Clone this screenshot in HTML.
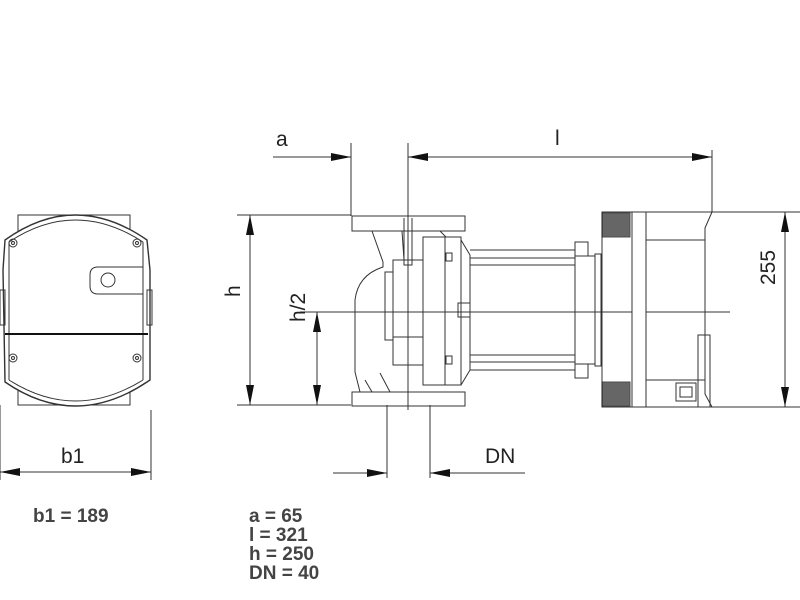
<!DOCTYPE html>
<html><head><style>
html,body{margin:0;padding:0;background:#fff;width:800px;height:600px;overflow:hidden}
.t{font-family:"Liberation Sans",Arial,sans-serif;font-weight:bold;fill:#444;font-size:19px}
.d{font-family:"Liberation Sans",Arial,sans-serif;fill:#222;font-size:21px}
</style></head><body>
<svg width="800" height="600" viewBox="0 0 800 600" xmlns="http://www.w3.org/2000/svg">
<defs>
<marker id="ar" viewBox="0 0 20 8" refX="20" refY="4" markerWidth="20" markerHeight="8" markerUnits="userSpaceOnUse" orient="auto-start-reverse"><path d="M0,0 L20,4 L0,8 Z" fill="#111"/></marker>
</defs>
<g stroke="#333" stroke-width="1" fill="none">
<rect x="18" y="215" width="112" height="190"/>
<path d="M5,240 Q75,190 147,240 L150,270 L150,380 L147,382 Q75,430 5,382 L3,270 Z" fill="#fff" stroke-width="1.4"/>
<path d="M9,242 Q75,198 143,242 M9,380 Q75,422 143,380" />
<line x1="9" y1="242" x2="9" y2="380"/><line x1="143" y1="242" x2="143" y2="380"/>
<line x1="5" y1="334" x2="148" y2="334" stroke-width="2" stroke="#111"/>
<circle cx="13" cy="243" r="4"/><circle cx="13" cy="243" r="1.5"/>
<circle cx="137" cy="243" r="4"/><circle cx="137" cy="243" r="1.5"/>
<circle cx="13" cy="358" r="4"/><circle cx="13" cy="358" r="1.5"/>
<circle cx="137" cy="358" r="4"/><circle cx="137" cy="358" r="1.5"/>
<path d="M143,267 L98,267 Q90,267 90,275 L90,286 Q90,294 98,294 L143,294"/>
<circle cx="108" cy="280" r="7"/>
<rect x="0" y="290" width="5" height="35"/><rect x="147" y="290" width="5" height="35"/>
<line x1="0" y1="405" x2="0" y2="480"/><line x1="151" y1="410" x2="151" y2="480"/>
<line x1="0" y1="472" x2="151" y2="472" marker-start="url(#ar)" marker-end="url(#ar)"/>

<line x1="237" y1="215" x2="351" y2="215"/><line x1="237" y1="405" x2="351" y2="405"/>
<line x1="250" y1="215" x2="250" y2="405" marker-start="url(#ar)" marker-end="url(#ar)"/>
<line x1="317" y1="312" x2="317" y2="405" marker-start="url(#ar)" marker-end="url(#ar)"/>
<line x1="300" y1="312" x2="730" y2="312"/>
<line x1="351" y1="143" x2="351" y2="216"/>
<line x1="408" y1="143" x2="408" y2="410"/>
<line x1="712" y1="150" x2="712" y2="212"/>
<line x1="273" y1="157" x2="351" y2="157" marker-end="url(#ar)"/>
<line x1="408" y1="157" x2="712" y2="157" marker-start="url(#ar)" marker-end="url(#ar)"/>
<line x1="387" y1="405" x2="387" y2="478"/><line x1="430" y1="405" x2="430" y2="478"/>
<line x1="333" y1="473" x2="387" y2="473" marker-end="url(#ar)"/>
<line x1="525" y1="473" x2="430" y2="473" marker-end="url(#ar)"/>
<line x1="640" y1="212" x2="800" y2="212"/><line x1="700" y1="407" x2="800" y2="407"/>
<line x1="785" y1="212" x2="785" y2="407" marker-start="url(#ar)" marker-end="url(#ar)"/>

<rect x="352" y="216" width="113" height="15"/>
<rect x="352" y="392" width="113" height="14"/>
<path d="M372,231 L383,262 L383,267 Q358,275 355,300 L355,372 L360,392 M402,231 L404,260 M440,231 L446,237"/>
<rect x="385" y="272" width="8" height="68"/>
<rect x="393" y="260" width="30" height="105"/>
<line x1="393" y1="337" x2="423" y2="337"/>
<rect x="423" y="237" width="22" height="148"/>
<rect x="445" y="237" width="16" height="148"/>
<path d="M461,240 L470,255 L470,370 L461,385"/>
<rect x="446" y="253" width="6" height="8"/><rect x="446" y="356" width="6" height="8"/>
<rect x="458" y="303" width="12" height="14"/>
<path d="M404,218 L404,265 L412,265 L412,218"/>
<line x1="365" y1="380" x2="372" y2="392"/><line x1="380" y1="373" x2="390" y2="392"/>
<line x1="470" y1="250" x2="575" y2="250"/><line x1="470" y1="258" x2="575" y2="258"/><line x1="470" y1="265" x2="575" y2="265"/>
<line x1="470" y1="355" x2="575" y2="355"/><line x1="470" y1="362" x2="575" y2="362"/><line x1="470" y1="370" x2="575" y2="370"/>
<rect x="575" y="242" width="13" height="14"/><rect x="575" y="364" width="13" height="14"/>
<rect x="575" y="256" width="20" height="108"/>
<rect x="595" y="254" width="6" height="112"/>
<rect x="602" y="212" width="30" height="195"/>
<g stroke="#111">
<rect x="602" y="213" width="28" height="24" fill="#333" opacity="0.75"/>
<rect x="602" y="382" width="28" height="24" fill="#333" opacity="0.75"/>
</g>
<rect x="632" y="212" width="14" height="195" fill="#fff"/>
<line x1="646" y1="240" x2="705" y2="240"/><line x1="646" y1="380" x2="705" y2="380"/>
<line x1="646" y1="212" x2="712" y2="212"/><line x1="646" y1="407" x2="712" y2="407"/>
<path d="M712,212 L705,228 L705,394 L712,407"/>
<rect x="698" y="335" width="12" height="72"/>
<rect x="676" y="383" width="20" height="18"/><rect x="680" y="387" width="12" height="10"/>
</g>
<text class="d" x="276" y="146">a</text>
<text class="d" x="555" y="145">l</text>
<text class="d" x="61" y="463">b1</text>
<text class="d" x="485" y="463">DN</text>
<text class="d" transform="translate(240,297) rotate(-90)">h</text>
<text class="d" transform="translate(305,322) rotate(-90)">h/2</text>
<text class="d" transform="translate(775,285) rotate(-90)">255</text>
<text class="t" x="33" y="522">b1 = 189</text>
<text class="t" x="249" y="522">a = 65</text>
<text class="t" x="249" y="541">l = 321</text>
<text class="t" x="249" y="560">h = 250</text>
<text class="t" x="249" y="579">DN = 40</text>
</svg>
</body></html>
